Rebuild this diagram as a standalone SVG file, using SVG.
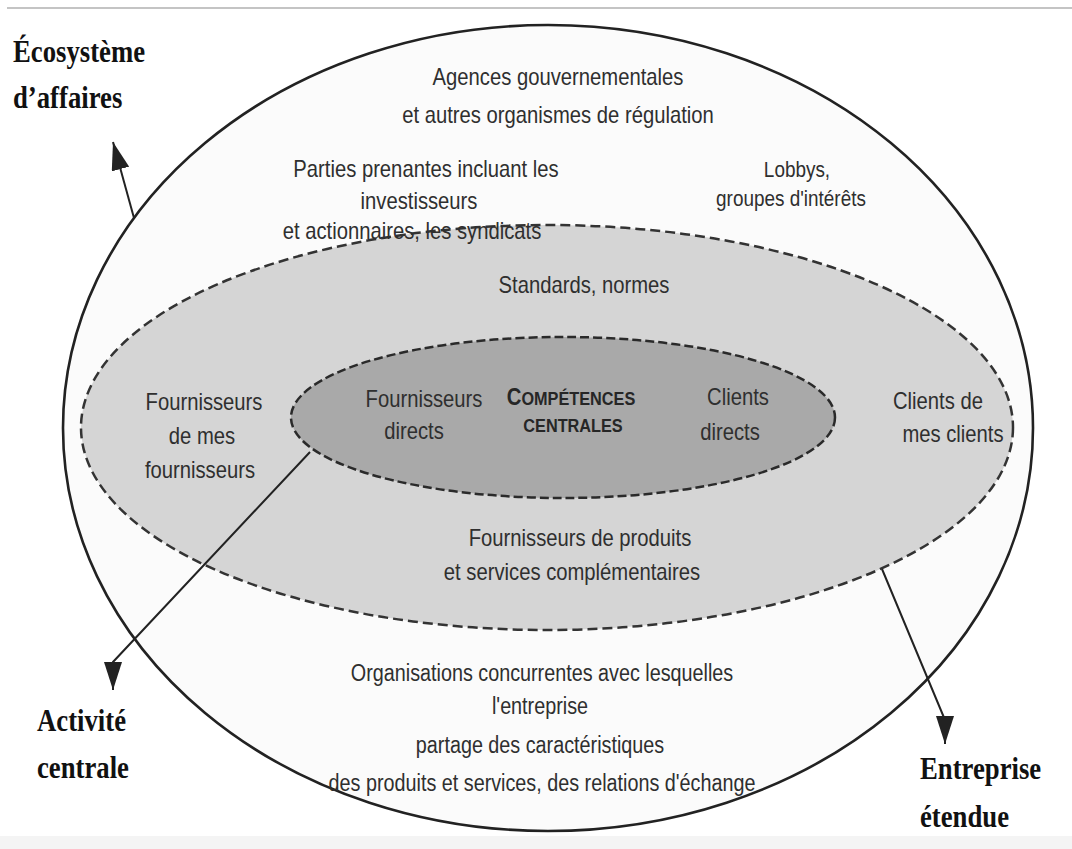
<svg xmlns="http://www.w3.org/2000/svg" width="1072" height="849" viewBox="0 0 1072 849">
<style>
.s{font-family:"Liberation Sans",Arial,sans-serif;font-size:23px;fill:#2f2f2f;text-anchor:middle}
.sm{font-size:21.5px}
.b{font-weight:bold;fill:#262626}
.sc{font-size:18.5px}
.lab{font-family:"Liberation Serif","Times New Roman",serif;font-size:32px;font-weight:bold;fill:#111}
.con{fill:none;stroke:#222;stroke-width:2;marker-end:url(#ah)}
</style>
<defs>
<marker id="ah" viewBox="0 0 28 18" refX="28" refY="9" markerWidth="28" markerHeight="18" markerUnits="userSpaceOnUse" orient="auto">
<path d="M0,0 L28,9 L0,18 z" fill="#222"/>
</marker>
</defs>
<rect width="1072" height="849" fill="#fff"/>
<rect x="0" y="836" width="1072" height="13" fill="#f4f4f4"/>
<line x1="7" y1="8" x2="1072" y2="8" stroke="#c4c4c4" stroke-width="2"/>

<g id="ecosysteme">
<ellipse cx="548" cy="428" rx="485" ry="403" fill="#fbfbfb" stroke="#222" stroke-width="2.6"/>
</g>

<g id="entreprise-etendue">
<ellipse cx="547" cy="427.5" rx="466" ry="202.5" fill="#d5d5d5" stroke="#333" stroke-width="2.5" stroke-dasharray="10 5"/>
<text class="s" transform="translate(584,293) scale(0.88,1)">Standards, normes</text>
<text class="s" transform="translate(204,410) scale(0.88,1)">Fournisseurs</text>
<text class="s" transform="translate(202,444) scale(0.88,1)">de mes</text>
<text class="s" transform="translate(200,478) scale(0.88,1)">fournisseurs</text>
<text class="s" transform="translate(938,409) scale(0.88,1)">Clients de</text>
<text class="s" transform="translate(953,442) scale(0.88,1)">mes clients</text>
<text class="s" transform="translate(580,546) scale(0.88,1)">Fournisseurs de produits</text>
<text class="s" transform="translate(572,580) scale(0.88,1)">et services complémentaires</text>
</g>

<g id="activite-centrale">
<ellipse cx="563" cy="417.5" rx="272" ry="80.5" fill="#a9a9a9" stroke="#2a2a2a" stroke-width="2.5" stroke-dasharray="9 4"/>
<text class="s" transform="translate(424,407) scale(0.88,1)">Fournisseurs</text>
<text class="s" transform="translate(414,439) scale(0.88,1)">directs</text>
<text class="s b" transform="translate(571,405) scale(0.88,1)">C<tspan class="sc">OMPÉTENCES</tspan></text>
<text class="s b sc" transform="translate(573,432) scale(0.88,1)">CENTRALES</text>
<text class="s" transform="translate(738,405) scale(0.88,1)">Clients</text>
<text class="s" transform="translate(730,440) scale(0.88,1)">directs</text>
</g>

<g id="ecosysteme-textes">
<text class="s" transform="translate(558,85) scale(0.88,1)">Agences gouvernementales</text>
<text class="s" transform="translate(558,123) scale(0.88,1)">et autres organismes de régulation</text>
<text class="s" transform="translate(426,177) scale(0.88,1)">Parties prenantes incluant les</text>
<text class="s" transform="translate(419,209) scale(0.88,1)">investisseurs</text>
<text class="s" transform="translate(412,239) scale(0.88,1)">et actionnaires, les syndicats</text>
<text class="s sm" transform="translate(797,177) scale(0.88,1)">Lobbys,</text>
<text class="s sm" transform="translate(791,206) scale(0.88,1)">groupes d'intérêts</text>
<text class="s" transform="translate(542,681) scale(0.86,1)">Organisations concurrentes avec lesquelles</text>
<text class="s" transform="translate(540,714) scale(0.86,1)">l'entreprise</text>
<text class="s" transform="translate(540,753) scale(0.86,1)">partage des caractéristiques</text>
<text class="s" transform="translate(542,791) scale(0.86,1)">des produits et services, des relations d'échange</text>
</g>

<g id="connecteurs">
<path class="con" d="M134,218 L113,142"/>
<path class="con" d="M310,452 L113,662 L113,690"/>
<path class="con" d="M882,569 L945,720 L945,744"/>
</g>

<g id="label-ecosysteme">
<text class="lab" transform="translate(13,62) scale(0.835,1)">Écosystème</text>
<text class="lab" transform="translate(13,108) scale(0.835,1)">d’affaires</text>
</g>
<g id="label-activite">
<text class="lab" transform="translate(37,731) scale(0.835,1)">Activité</text>
<text class="lab" transform="translate(37,778) scale(0.835,1)">centrale</text>
</g>
<g id="label-entreprise">
<text class="lab" transform="translate(920,779) scale(0.835,1)">Entreprise</text>
<text class="lab" transform="translate(920,827) scale(0.835,1)">étendue</text>
</g>
</svg>
